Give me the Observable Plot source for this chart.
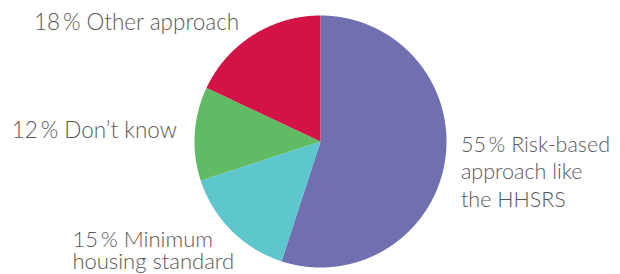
<!DOCTYPE html>
<html>
<head>
<meta charset="utf-8">
<script src="https://cdn.jsdelivr.net/npm/d3@7"></script>
<script src="https://cdn.jsdelivr.net/npm/@observablehq/plot@0.6"></script>
<style>
  html, body { margin: 0; padding: 0; background: #fff; }
  #chart svg { display: block; }
</style>
</head>
<body>
<div id="chart"></div>
<script>
// Data (clockwise from 12 o'clock)
const categories = ["Risk-based\napproach like\nthe HHSRS", "Minimum\nhousing standard", "Don’t know", "Other approach"];
const shares = [55, 15, 12, 18];
const colors = ["#7070b0", "#5ec6cd", "#60bc64", "#d31245"];

// Label layout (styling only): offsets from slice mid-angle point on the rim
const labelLayout = [
  {dx: 16, dy: 46, lineHeight: 1.29, fontSize: 21.5},
  {dx: -159, dy: 38, lineHeight: 1.0, fontSize: 22},
  {dx: -183, dy: 4, lineHeight: 1, fontSize: 22.5},
  {dx: -219, dy: -5, lineHeight: 1, fontSize: 22.5}
];

const table = categories.map((c, i) => ({category: c, share: shares[i]}));
const arcs = d3.pie().sort(null).value(d => d.share)(table);

// Slice outlines in unit-circle coordinates (derived from pie angles)
const slicePts = [];
arcs.forEach(a => {
  const n = Math.max(2, Math.ceil((a.endAngle - a.startAngle) / 0.005));
  slicePts.push({category: a.data.category, x: 0, y: 0});
  for (let k = 0; k <= n; ++k) {
    const t = a.startAngle + (a.endAngle - a.startAngle) * k / n;
    slicePts.push({category: a.data.category, x: Math.sin(t), y: Math.cos(t)});
  }
});

const labels = arcs.map((a, i) => {
  const m = (a.startAngle + a.endAngle) / 2;
  return {category: a.data.category, share: a.data.share, x: Math.sin(m), y: Math.cos(m), text: `${a.data.share}\u2009% ${a.data.category}`};
});

const textMarks = labels.map((l, i) => Plot.text([l], {
  x: "x", y: "y", text: "text",
  textAnchor: "start", lineAnchor: "bottom",
  dx: labelLayout[i].dx, dy: labelLayout[i].dy,
  lineHeight: labelLayout[i].lineHeight,
  fontSize: labelLayout[i].fontSize,
  fontWeight: 300,
  fill: "#58585a"
}));

const chart = Plot.plot({
  width: 620,
  height: 274,
  marginLeft: 194,
  marginRight: 174,
  marginTop: 15,
  marginBottom: 7,
  x: {domain: [-1, 1], axis: null},
  y: {domain: [-1, 1], axis: null},
  color: {domain: categories, range: colors},
  style: {fontFamily: "Lato, sans-serif", background: "#fff", overflow: "visible"},
  marks: [
    Plot.line(slicePts, {x: "x", y: "y", z: "category", fill: "category", stroke: "none", curve: "linear-closed"}),
    ...textMarks
  ]
});
document.getElementById("chart").appendChild(chart);
</script>
</body>
</html>
